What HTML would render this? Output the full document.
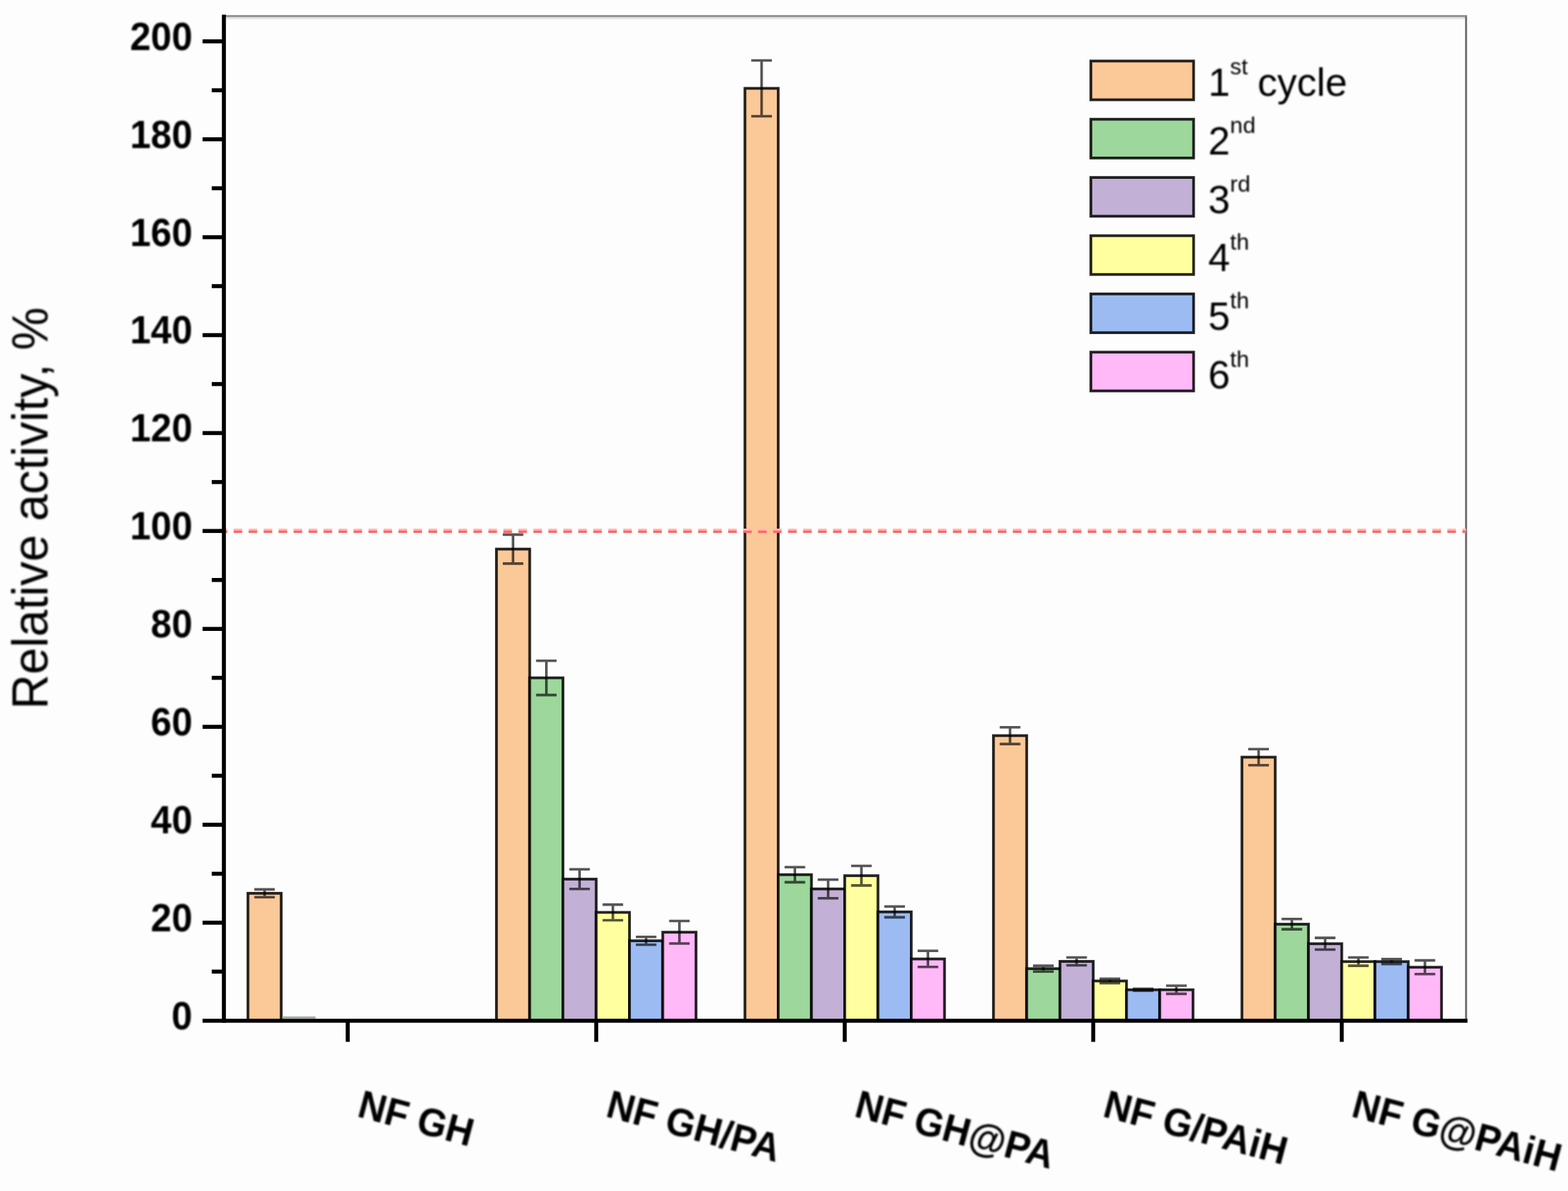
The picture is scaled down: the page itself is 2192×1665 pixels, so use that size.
<!DOCTYPE html>
<html lang="en"><head><meta charset="utf-8"><title>Relative activity</title>
<style>
html,body{margin:0;padding:0;background:#fdfdfd;}
body{width:2192px;height:1665px;overflow:hidden;}
svg{display:block;}
text{font-family:"Liberation Sans",Arial,Helvetica,sans-serif;fill:#000;filter:url(#soft);}
.tk{font-weight:bold;font-size:56px;text-anchor:end;}
.lg{font-size:55px;}
.sup{font-size:32px;}
.xl{font-weight:bold;font-size:56px;}
.yt{font-size:69.5px;}
.bar{stroke:#000;stroke-width:3.8;stroke-opacity:.86;}
.eb{stroke:#000;stroke-width:3.6;stroke-opacity:.66;fill:none;}
.ax{stroke:#000;stroke-width:5.6;fill:none;}
</style></head><body>
<svg width="2192" height="1665" viewBox="0 0 2192 1665">
<defs><filter id="soft" x="-10%" y="-30%" width="120%" height="160%"><feGaussianBlur stdDeviation="1.1"/></filter></defs>
<rect width="2192" height="1665" fill="#fdfdfd"/>
<rect x="313" y="24" width="1735" height="3" fill="#e4e4e4"/>
<rect x="313" y="21" width="1738" height="3" fill="#959595"/>
<rect x="2048" y="23" width="3" height="1402" fill="#777"/>
<rect class="bar" x="346.6" y="1248.8" width="46.5" height="178.0" fill="#FBC898"/>
<rect x="394.6" y="1421" width="46.5" height="3" fill="#a3ada3"/>
<rect class="bar" x="694.0" y="767.6" width="46.5" height="659.2" fill="#FBC898"/>
<rect class="bar" x="740.5" y="947.6" width="46.5" height="479.1" fill="#9DD79B"/>
<rect class="bar" x="787.0" y="1229.0" width="46.5" height="197.8" fill="#C2B0D6"/>
<rect class="bar" x="833.5" y="1275.5" width="46.5" height="151.3" fill="#FFFF9F"/>
<rect class="bar" x="880.0" y="1315.2" width="46.5" height="111.6" fill="#9CBBF3"/>
<rect class="bar" x="926.5" y="1303.2" width="46.5" height="123.6" fill="#FFB8F8"/>
<rect class="bar" x="1041.4" y="123.5" width="46.5" height="1303.3" fill="#FBC898"/>
<rect class="bar" x="1087.9" y="1222.8" width="46.5" height="204.0" fill="#9DD79B"/>
<rect class="bar" x="1134.4" y="1242.7" width="46.5" height="184.1" fill="#C2B0D6"/>
<rect class="bar" x="1180.9" y="1224.2" width="46.5" height="202.6" fill="#FFFF9F"/>
<rect class="bar" x="1227.4" y="1274.8" width="46.5" height="152.0" fill="#9CBBF3"/>
<rect class="bar" x="1273.9" y="1340.6" width="46.5" height="86.2" fill="#FFB8F8"/>
<rect class="bar" x="1388.8" y="1028.4" width="46.5" height="398.4" fill="#FBC898"/>
<rect class="bar" x="1435.3" y="1354.2" width="46.5" height="72.6" fill="#9DD79B"/>
<rect class="bar" x="1481.8" y="1344.0" width="46.5" height="82.8" fill="#C2B0D6"/>
<rect class="bar" x="1528.3" y="1371.4" width="46.5" height="55.4" fill="#FFFF9F"/>
<rect class="bar" x="1574.8" y="1383.7" width="46.5" height="43.1" fill="#9CBBF3"/>
<rect class="bar" x="1621.3" y="1383.7" width="46.5" height="43.1" fill="#FFB8F8"/>
<rect class="bar" x="1736.2" y="1058.5" width="46.5" height="368.3" fill="#FBC898"/>
<rect class="bar" x="1782.7" y="1292.0" width="46.5" height="134.8" fill="#9DD79B"/>
<rect class="bar" x="1829.2" y="1319.3" width="46.5" height="107.5" fill="#C2B0D6"/>
<rect class="bar" x="1875.7" y="1344.3" width="46.5" height="82.5" fill="#FFFF9F"/>
<rect class="bar" x="1922.2" y="1344.3" width="46.5" height="82.5" fill="#9CBBF3"/>
<rect class="bar" x="1968.7" y="1352.2" width="46.5" height="74.6" fill="#FFB8F8"/>
<path d="M305.7 740.5H2049.5" stroke="#ffb9b9" stroke-width="3" stroke-dasharray="12 8.947" fill="none"/>
<path d="M305.7 743.4H2049.5" stroke="#ff6666" stroke-width="3.2" stroke-dasharray="12 8.947" fill="none"/>
<path class="eb" d="M355.5 1243.4H384.2M355.5 1254.3H384.2M369.9 1243.4V1254.3"/>
<path class="eb" d="M702.9 747.4H731.6M702.9 787.9H731.6M717.2 747.4V787.9"/>
<path class="eb" d="M749.4 923.7H778.1M749.4 971.6H778.1M763.8 923.7V971.6"/>
<path class="eb" d="M795.9 1215.3H824.6M795.9 1242.7H824.6M810.2 1215.3V1242.7"/>
<path class="eb" d="M842.4 1264.6H871.1M842.4 1286.5H871.1M856.8 1264.6V1286.5"/>
<path class="eb" d="M888.9 1309.8H917.6M888.9 1320.7H917.6M903.2 1309.8V1320.7"/>
<path class="eb" d="M935.4 1287.5H964.1M935.4 1319.0H964.1M949.8 1287.5V1319.0"/>
<path class="eb" d="M1050.2 84.5H1079.1M1050.2 162.5H1079.1M1064.7 84.5V162.5"/>
<path class="eb" d="M1096.8 1212.2H1125.6M1096.8 1233.4H1125.6M1111.2 1212.2V1233.4"/>
<path class="eb" d="M1143.2 1229.7H1172.1M1143.2 1255.7H1172.1M1157.7 1229.7V1255.7"/>
<path class="eb" d="M1189.8 1210.5H1218.6M1189.8 1237.9H1218.6M1204.2 1210.5V1237.9"/>
<path class="eb" d="M1236.2 1267.3H1265.1M1236.2 1282.4H1265.1M1250.7 1267.3V1282.4"/>
<path class="eb" d="M1282.8 1329.3H1311.6M1282.8 1351.8H1311.6M1297.2 1329.3V1351.8"/>
<path class="eb" d="M1397.6 1016.8H1426.5M1397.6 1040.1H1426.5M1412.0 1016.8V1040.1"/>
<path class="eb" d="M1444.1 1350.1H1473.0M1444.1 1358.3H1473.0M1458.5 1350.1V1358.3"/>
<path class="eb" d="M1490.6 1338.5H1519.5M1490.6 1349.5H1519.5M1505.0 1338.5V1349.5"/>
<path class="eb" d="M1537.1 1368.3H1566.0M1537.1 1374.4H1566.0M1551.5 1368.3V1374.4"/>
<path class="eb" d="M1583.6 1382.3H1612.5M1583.6 1385.0H1612.5M1598.0 1382.3V1385.0"/>
<path class="eb" d="M1630.1 1378.0H1659.0M1630.1 1389.4H1659.0M1644.5 1378.0V1389.4"/>
<path class="eb" d="M1745.0 1047.2H1773.9M1745.0 1069.8H1773.9M1759.5 1047.2V1069.8"/>
<path class="eb" d="M1791.5 1284.8H1820.4M1791.5 1299.1H1820.4M1806.0 1284.8V1299.1"/>
<path class="eb" d="M1838.0 1311.1H1866.9M1838.0 1327.5H1866.9M1852.5 1311.1V1327.5"/>
<path class="eb" d="M1884.5 1338.5H1913.4M1884.5 1350.1H1913.4M1899.0 1338.5V1350.1"/>
<path class="eb" d="M1931.0 1340.9H1959.9M1931.0 1347.7H1959.9M1945.5 1340.9V1347.7"/>
<path class="eb" d="M1977.5 1342.6H2006.4M1977.5 1361.8H2006.4M1992.0 1342.6V1361.8"/>
<path class="ax" d="M313 20.5V1429.8"/>
<path class="ax" d="M283.2 1427.0H2051.5"/>
<text class="tk" transform="translate(269 1438.7) scale(.935 1)">0</text>
<path class="ax" d="M296 1358.3H313"/>
<path class="ax" d="M283.2 1289.9H313"/>
<text class="tk" transform="translate(269 1301.8) scale(.935 1)">20</text>
<path class="ax" d="M296 1221.5H313"/>
<path class="ax" d="M283.2 1153.0H313"/>
<text class="tk" transform="translate(269 1164.9) scale(.935 1)">40</text>
<path class="ax" d="M296 1084.5H313"/>
<path class="ax" d="M283.2 1016.1H313"/>
<text class="tk" transform="translate(269 1028.0) scale(.935 1)">60</text>
<path class="ax" d="M296 947.6H313"/>
<path class="ax" d="M283.2 879.2H313"/>
<text class="tk" transform="translate(269 891.1) scale(.935 1)">80</text>
<path class="ax" d="M296 810.8H313"/>
<path class="ax" d="M283.2 742.3H313"/>
<text class="tk" transform="translate(269 754.2) scale(.935 1)">100</text>
<path class="ax" d="M296 673.9H313"/>
<path class="ax" d="M283.2 605.4H313"/>
<text class="tk" transform="translate(269 617.3) scale(.935 1)">120</text>
<path class="ax" d="M296 536.9H313"/>
<path class="ax" d="M283.2 468.5H313"/>
<text class="tk" transform="translate(269 480.4) scale(.935 1)">140</text>
<path class="ax" d="M296 400.0H313"/>
<path class="ax" d="M283.2 331.6H313"/>
<text class="tk" transform="translate(269 343.5) scale(.935 1)">160</text>
<path class="ax" d="M296 263.2H313"/>
<path class="ax" d="M283.2 194.7H313"/>
<text class="tk" transform="translate(269 206.6) scale(.935 1)">180</text>
<path class="ax" d="M296 126.2H313"/>
<path class="ax" d="M283.2 57.8H313"/>
<text class="tk" transform="translate(269 69.7) scale(.935 1)">200</text>
<path class="ax" d="M486.1 1426.8V1456.5"/>
<path class="ax" d="M833.5 1426.8V1456.5"/>
<path class="ax" d="M1180.9 1426.8V1456.5"/>
<path class="ax" d="M1528.3 1426.8V1456.5"/>
<path class="ax" d="M1875.7 1426.8V1456.5"/>
<text class="xl" transform="translate(497.7 1560.4) rotate(15) scale(.943 1)">NF GH</text>
<text class="xl" transform="translate(845.1 1560.4) rotate(15) scale(.943 1)">NF GH/PA</text>
<text class="xl" transform="translate(1192.5 1560.4) rotate(15) scale(.943 1)">NF GH@PA</text>
<text class="xl" transform="translate(1539.9 1560.4) rotate(15) scale(.943 1)">NF G/PAiH</text>
<text class="xl" transform="translate(1887.3 1560.4) rotate(15) scale(.943 1)">NF G@PAiH</text>
<text class="yt" transform="translate(66.4 991.6) rotate(-90)" textLength="562" lengthAdjust="spacingAndGlyphs">Relative activity, %</text>
<rect class="bar" x="1525" y="85.3" width="143.6" height="54.2" fill="#FBC898"/>
<text class="lg" x="1689" y="133.8">1<tspan class="sup" dy="-30">st</tspan><tspan dx="-1.8" dy="30"> cycle</tspan></text>
<rect class="bar" x="1525" y="166.7" width="143.6" height="54.2" fill="#9DD79B"/>
<text class="lg" x="1689" y="216.1">2<tspan class="sup" dy="-30">nd</tspan></text>
<rect class="bar" x="1525" y="248.1" width="143.6" height="54.2" fill="#C2B0D6"/>
<text class="lg" x="1689" y="297.7">3<tspan class="sup" dy="-30">rd</tspan></text>
<rect class="bar" x="1525" y="329.5" width="143.6" height="54.2" fill="#FFFF9F"/>
<text class="lg" x="1689" y="379.3">4<tspan class="sup" dy="-30">th</tspan></text>
<rect class="bar" x="1525" y="410.9" width="143.6" height="54.2" fill="#9CBBF3"/>
<text class="lg" x="1689" y="460.9">5<tspan class="sup" dy="-30">th</tspan></text>
<rect class="bar" x="1525" y="492.3" width="143.6" height="54.2" fill="#FFB8F8"/>
<text class="lg" x="1689" y="542.5">6<tspan class="sup" dy="-30">th</tspan></text>
</svg></body></html>
